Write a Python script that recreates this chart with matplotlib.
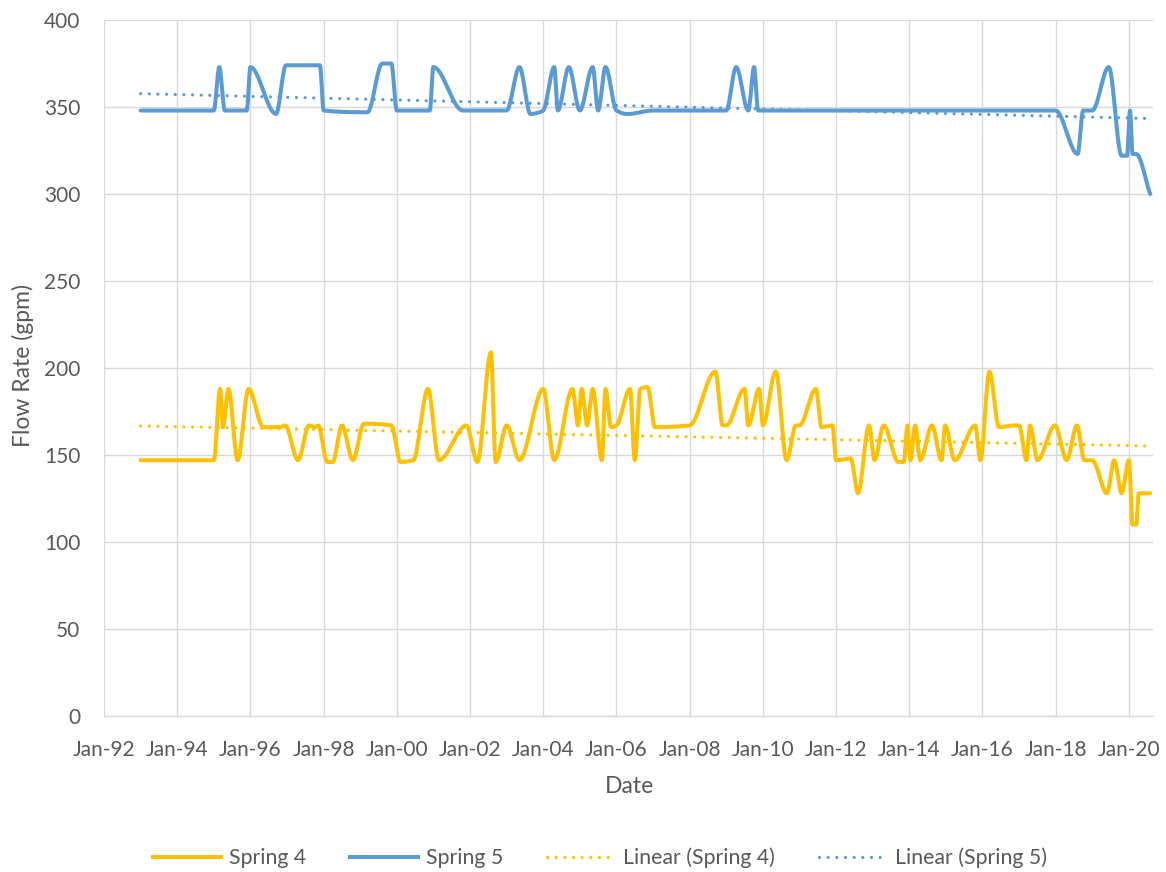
import numpy as np
import matplotlib
matplotlib.use('Agg')
import matplotlib.pyplot as plt
from matplotlib.lines import Line2D

plt.rcParams['font.family'] = ['Lato', 'DejaVu Sans']

# Spring 4 readings (decimal year, gpm)
s4_year = [1993.0, 1995.0, 1995.17, 1995.25, 1995.4, 1995.65, 1995.95, 1996.35, 1996.8,
           1996.95, 1997.3, 1997.6, 1997.75, 1997.85, 1998.1, 1998.25, 1998.5, 1998.8,
           1999.1, 1999.85, 2000.1, 2000.45, 2000.85, 2001.15, 2001.9, 2002.2, 2002.57,
           2002.7, 2003.0, 2003.35, 2004.0, 2004.3, 2004.8, 2004.95, 2005.05, 2005.2,
           2005.35, 2005.6, 2005.7, 2005.85, 2006.0, 2006.37, 2006.5, 2006.65, 2006.85,
           2007.05, 2008.0, 2008.7, 2008.9, 2009.0, 2009.5, 2009.6, 2009.9, 2010.0,
           2010.35, 2010.65, 2010.9, 2011.0, 2011.45, 2011.6, 2011.9, 2012.0, 2012.4,
           2012.6, 2012.9, 2013.05, 2013.3, 2013.7, 2013.85, 2013.95, 2014.03, 2014.16,
           2014.3, 2014.62, 2014.88, 2014.98, 2015.24, 2015.8, 2015.94, 2016.19, 2016.45,
           2016.85, 2017.0, 2017.2, 2017.3, 2017.5, 2017.98, 2018.3, 2018.58, 2018.78,
           2019.0, 2019.4, 2019.6, 2019.8, 2020.0, 2020.1, 2020.2, 2020.27, 2020.58]
s4_flow = [147, 147, 188, 166, 188, 147, 188, 166, 166,
           167, 147, 167, 166, 167, 146, 146, 167, 147,
           168, 167, 146, 147, 188, 147, 167, 146, 209,
           146, 167, 147, 188, 147, 188, 167, 188, 167,
           188, 147, 188, 166, 167, 188, 147, 188, 189,
           166, 167, 198, 167, 167, 188, 167, 188, 167,
           198, 147, 167, 167, 188, 166, 167, 147, 148,
           128, 167, 147, 167, 146, 146, 167, 147, 167,
           147, 167, 147, 167, 147, 167, 147, 198, 166,
           167, 167, 147, 167, 147, 167, 147, 167, 147,
           147, 128, 147, 128, 147, 110, 110, 128, 128]

# Spring 5 readings (decimal year, gpm)
s5_year = [1993.0, 1995.0, 1995.15, 1995.3, 1995.9, 1996.0, 1996.7, 1996.97, 1997.9,
           1998.0, 1999.2, 1999.6, 1999.85, 2000.0, 2000.9, 2001.0, 2001.8, 2003.0,
           2003.35, 2003.65, 2003.9, 2004.0, 2004.3, 2004.4, 2004.7, 2005.0, 2005.35,
           2005.5, 2005.7, 2006.0, 2006.3, 2007.0, 2009.0, 2009.27, 2009.6, 2009.76,
           2009.87, 2018.0, 2018.6, 2018.75, 2019.0, 2019.45, 2019.8, 2019.95, 2020.03,
           2020.1, 2020.2, 2020.58]
s5_flow = [348, 348, 373, 348, 348, 373, 346, 374, 374,
           348, 347, 375, 375, 348, 348, 373, 348, 348,
           373, 346, 347, 348, 373, 348, 373, 348, 373,
           348, 373, 348, 346, 348, 348, 373, 348, 373,
           348, 348, 323, 348, 348, 373, 322, 322, 348,
           323, 323, 300]

# linear trend lines (start, end)
trend_year = [1993.0, 2020.58]
trend4 = [166.7, 155.2]
trend5 = [357.7, 343.4]

tick_years = list(range(1992, 2021, 2))
tick_labels = ['Jan-%02d' % (y % 100) for y in tick_years]

c4 = '#FFC000'
c5 = '#5B9BD5'
grid_c = '#D9D9D9'
txt_c = '#595959'


def smooth(x, y, n=16):
    # smoothed line through the points (monotone cubic, no overshoot on flats)
    x = np.asarray(x, float)
    y = np.asarray(y, float)
    h = np.diff(x)
    d = np.diff(y) / h
    m = np.zeros_like(y)
    m[0], m[-1] = d[0], d[-1]
    for k in range(1, len(x) - 1):
        if d[k - 1] * d[k] > 0:
            w1 = 2 * h[k] + h[k - 1]
            w2 = h[k] + 2 * h[k - 1]
            m[k] = (w1 + w2) / (w1 / d[k - 1] + w2 / d[k])
    xs, ys = [], []
    t = np.linspace(0, 1, n)
    for k in range(len(x) - 1):
        h00 = 2 * t**3 - 3 * t**2 + 1
        h10 = t**3 - 2 * t**2 + t
        h01 = -2 * t**3 + 3 * t**2
        h11 = t**3 - t**2
        xs.append(x[k] + t * h[k])
        ys.append(h00 * y[k] + h10 * h[k] * m[k] + h01 * y[k + 1] + h11 * h[k] * m[k + 1])
    return np.concatenate(xs), np.concatenate(ys)


fig = plt.figure(figsize=(11.66, 8.72), dpi=100)
ax = fig.add_axes([0.0892, 0.1789, 0.8997, 0.7981])

dot = (0, (0.01, 2.7))
ax.plot(trend_year, trend4, color=c4, lw=2.3, linestyle=dot, dash_capstyle='round', zorder=3)
ax.plot(trend_year, trend5, color=c5, lw=2.3, linestyle=dot, dash_capstyle='round', zorder=3)

x4, y4 = smooth(s4_year, s4_flow)
x5, y5 = smooth(s5_year, s5_flow)
ax.plot(x4, y4, color=c4, lw=2.9, solid_joinstyle='round', solid_capstyle='round', zorder=4)
ax.plot(x5, y5, color=c5, lw=2.9, solid_joinstyle='round', solid_capstyle='round', zorder=4)

ax.set_xlim(1992, 2020.66)
ax.set_ylim(0, 400)
ax.set_yticks(range(0, 401, 50))
ax.set_xticks(tick_years)
ax.set_xticklabels(tick_labels)
ax.grid(True, color=grid_c, lw=1.0)
ax.set_axisbelow(True)
for side in ['top', 'right', 'left']:
    ax.spines[side].set_visible(False)
ax.spines['bottom'].set_color(grid_c)
ax.spines['bottom'].set_linewidth(1.0)
ax.tick_params(length=0, labelsize=15, labelcolor=txt_c)
ax.tick_params(axis='y', pad=17)
ax.tick_params(axis='x', pad=17)

ax.set_xlabel('Date', fontsize=16.5, color=txt_c, va='center')
ax.xaxis.set_label_coords(0.5005, -0.102)
ax.set_ylabel('Flow Rate (gpm)', fontsize=16.5, color=txt_c, va='center', ha='center')
ax.yaxis.set_label_coords(-0.0772, 0.503)

handles = [
    Line2D([], [], color=c4, lw=2.9),
    Line2D([], [], color=c5, lw=2.9),
    Line2D([], [], color=c4, lw=2.3, linestyle=dot, dash_capstyle='round'),
    Line2D([], [], color=c5, lw=2.3, linestyle=dot, dash_capstyle='round'),
]
labels = ['Spring 4', 'Spring 5', 'Linear (Spring 4)', 'Linear (Spring 5)']
fig.legend(handles, labels, loc='center', bbox_to_anchor=(600 / 1166, 1 - 858 / 872),
           ncol=4, frameon=False, fontsize=15.3, labelcolor=txt_c,
           handlelength=3.2, handletextpad=0.38, columnspacing=2.05)

fig.savefig('out.png', dpi=100)
